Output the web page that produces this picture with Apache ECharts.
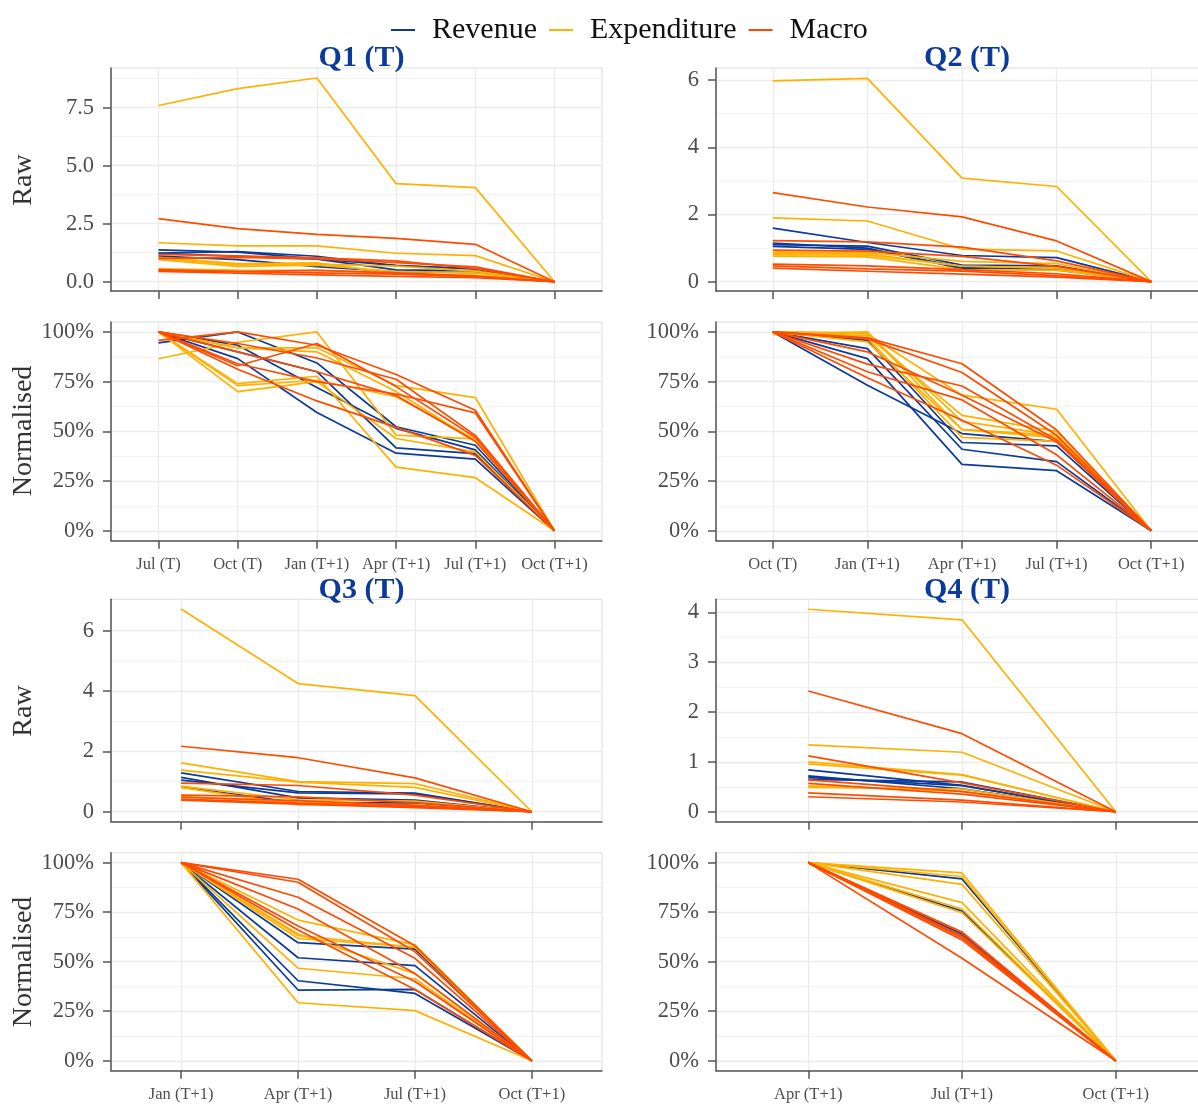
<!DOCTYPE html>
<html>
<head>
<meta charset="utf-8">
<script src="https://cdn.jsdelivr.net/npm/echarts@6/dist/echarts.min.js"></script>
<style>
  html, body {margin: 0; padding: 0; background: #fff;}
  #chart {width: 1198px; height: 1106px;}
</style>
</head>
<body>
<div id="chart"></div>
<script>
// categories per panel
const q1Cats = ['Jul (T)', 'Oct (T)', 'Jan (T+1)', 'Apr (T+1)', 'Jul (T+1)', 'Oct (T+1)']
const q2Cats = ['Oct (T)', 'Jan (T+1)', 'Apr (T+1)', 'Jul (T+1)', 'Oct (T+1)']
const q3Cats = ['Jan (T+1)', 'Apr (T+1)', 'Jul (T+1)', 'Oct (T+1)']
const q4Cats = ['Apr (T+1)', 'Jul (T+1)', 'Oct (T+1)']

// peak (raw max) of each line and its normalised profile in %
const q1RevPeak = [1.30, 1.37, 1.22, 1.10]
const q1RevNorm = [
  [94.5, 100, 84.4, 52.3, 43, 0],
  [100, 93.3, 72, 51.5, 40.7, 0],
  [100, 90, 80, 41.7, 38.8, 0],
  [100, 86.6, 59.5, 39, 36, 0],
]
const q1ExpPeak = [8.78, 1.68, 1.05, 1.00, 0.95, 0.55]
const q1ExpNorm = [
  [86.5, 94.8, 100, 48.1, 46.2, 0],
  [100, 92, 92, 73, 67, 0],
  [100, 74, 77.7, 32, 26.7, 0],
  [100, 73, 75.7, 67.4, 46, 0],
  [100, 70, 75, 46.4, 39.7, 0],
  [100, 92, 90, 70, 45, 0],
]
const q1MacPeak = [2.72, 1.05, 1.18, 0.52, 0.48, 0.45]
const q1MacNorm = [
  [100, 84, 75, 68.8, 59.3, 0],
  [95.8, 100, 93.3, 78.6, 60.6, 0],
  [100, 94.2, 86.9, 76.2, 48, 0],
  [100, 83, 94.2, 72.5, 47, 0],
  [100, 90, 80, 68, 45, 0],
  [100, 81.2, 65.3, 52, 37.9, 0],
]

const q2RevPeak = [1.59, 1.15, 1.10, 1.05]
const q2RevNorm = [
  [100, 73.2, 48.9, 44.8, 0],
  [100, 86.6, 33.4, 30.2, 0],
  [100, 95.8, 44.4, 42.7, 0],
  [100, 91.6, 41, 34.8, 0],
]
const q2ExpPeak = [6.05, 1.90, 0.88, 0.80, 0.76, 0.83]
const q2ExpNorm = [
  [98.8, 100, 50.9, 46.8, 0],
  [100, 95, 51, 48, 0],
  [100, 99, 68.2, 61.1, 0],
  [100, 98, 58, 50, 0],
  [100, 97, 47, 45, 0],
  [100, 99.5, 55, 48, 0],
]
const q2MacPeak = [2.65, 1.22, 0.94, 0.52, 0.47, 0.40]
const q2MacNorm = [
  [100, 83.8, 72.8, 45.7, 0],
  [100, 97, 84, 50.7, 0],
  [100, 96.5, 79.6, 48, 0],
  [100, 90, 68.2, 44.8, 0],
  [100, 80, 65.8, 38.2, 0],
  [100, 77, 55.6, 33, 0],
]

const q3RevPeak = [1.05, 1.29, 1.14, 0.82]
const q3RevNorm = [
  [100, 59.6, 56.3, 0],
  [100, 52, 48, 0],
  [100, 40.4, 34, 0],
  [100, 35.7, 36, 0],
]
const q3ExpPeak = [6.72, 1.62, 1.38, 0.85, 0.80, 0.50]
const q3ExpNorm = [
  [100, 63.2, 57.3, 0],
  [100, 61.7, 57.4, 0],
  [100, 71, 58.5, 0],
  [100, 46.7, 41.4, 0],
  [100, 29.3, 25.3, 0],
  [100, 64, 44, 0],
]
const q3MacPeak = [2.17, 0.95, 0.55, 0.48, 0.42, 0.38]
const q3MacNorm = [
  [100, 82.5, 51.7, 0],
  [100, 91.6, 58, 0],
  [100, 90.1, 55, 0],
  [100, 76.6, 44, 0],
  [100, 68, 40, 0],
  [100, 66, 36, 0],
]

const q4RevPeak = [0.84, 0.72, 0.69, 0.65]
const q4RevNorm = [
  [100, 63, 0],
  [100, 64, 0],
  [100, 75.6, 0],
  [100, 91.8, 0],
]
const q4ExpPeak = [4.06, 1.34, 1.00, 0.96, 0.52, 0.49]
const q4ExpNorm = [
  [100, 94.8, 0],
  [100, 89, 0],
  [100, 74.7, 0],
  [100, 76.6, 0],
  [100, 79.8, 0],
  [100, 93, 0],
]
const q4MacPeak = [2.42, 1.12, 0.64, 0.57, 0.38, 0.30]
const q4MacNorm = [
  [100, 64.7, 0],
  [100, 51.7, 0],
  [100, 63, 0],
  [100, 62, 0],
  [100, 61, 0],
  [100, 65, 0],
]

// axis ticks
const normTicks = [0, 25, 50, 75, 100]
const normMinor = [12.5, 37.5, 62.5, 87.5]

const font = 'Liberation Serif'
const textCol = '#4d4d4d'
const axisCol = '#555555'
const majorCol = '#ebebeb'
const minorCol = '#f3f3f3'
const colors = {Revenue: '#0b3a99', Expenditure: '#ffb000', Macro: '#ff4b00'}

const panels = [
  {title: 'Q1 (T)', cats: q1Cats, rev: [q1RevPeak, q1RevNorm], exp: [q1ExpPeak, q1ExpNorm], mac: [q1MacPeak, q1MacNorm],
    rawTicks: [0, 2.5, 5, 7.5], rawMinor: [1.25, 3.75, 6.25, 8.75], rawRange: [-0.40, 9.21], digits: 1,
    left: 111, width: 491, rawTop: 68, rawH: 223, normTop: 322, normH: 218.7, titleTop: 38},
  {title: 'Q2 (T)', cats: q2Cats, rev: [q2RevPeak, q2RevNorm], exp: [q2ExpPeak, q2ExpNorm], mac: [q2MacPeak, q2MacNorm],
    rawTicks: [0, 2, 4, 6], rawMinor: [1, 3, 5], rawRange: [-0.28, 6.36], digits: 0,
    left: 716, width: 492, rawTop: 68, rawH: 223, normTop: 322, normH: 218.7, titleTop: 38},
  {title: 'Q3 (T)', cats: q3Cats, rev: [q3RevPeak, q3RevNorm], exp: [q3ExpPeak, q3ExpNorm], mac: [q3MacPeak, q3MacNorm],
    rawTicks: [0, 2, 4, 6], rawMinor: [1, 3, 5], rawRange: [-0.33, 7.04], digits: 0,
    left: 111, width: 491, rawTop: 599.3, rawH: 222.4, normTop: 852.7, normH: 218, titleTop: 570},
  {title: 'Q4 (T)', cats: q4Cats, rev: [q4RevPeak, q4RevNorm], exp: [q4ExpPeak, q4ExpNorm], mac: [q4MacPeak, q4MacNorm],
    rawTicks: [0, 1, 2, 3, 4], rawMinor: [0.5, 1.5, 2.5, 3.5], rawRange: [-0.2, 4.26], digits: 0,
    left: 716, width: 492, rawTop: 599.3, rawH: 222.4, normTop: 852.7, normH: 218, titleTop: 570},
]

const grids = []
const xAxes = []
const yAxes = []
const minorAxes = []
const series = []
const titles = []

const makeX = (gi, cats, showLabels) => {
  const idx = cats.map((_c, i) => i)
  return {
    type: 'value', gridIndex: gi, min: -0.6, max: cats.length - 0.4,
    axisLine: {show: true, onZero: false, lineStyle: {color: axisCol, width: 1.5}},
    axisTick: {show: true, length: 8, customValues: idx, lineStyle: {color: axisCol, width: 1.5}},
    axisLabel: {show: showLabels, customValues: idx, formatter: (v) => cats[Math.round(v)] || '',
      color: textCol, fontFamily: font, fontSize: 16.5, margin: 15, hideOverlap: false},
    splitLine: {show: true, lineStyle: {color: majorCol, width: 1.3}},
  }
}

const makeY = (gi, range, ticks, fmt) => ({
  type: 'value', gridIndex: gi, min: range[0], max: range[1],
  axisLine: {show: true, onZero: false, lineStyle: {color: axisCol, width: 1.5}},
  axisTick: {show: true, length: 8, customValues: ticks, lineStyle: {color: axisCol, width: 1.5}},
  axisLabel: {show: true, customValues: ticks, formatter: fmt, color: textCol, fontFamily: font, fontSize: 22.5, margin: 17},
  splitLine: {show: true, lineStyle: {color: majorCol, width: 1.3}},
})

const makeMinor = (gi, range, ticks) => ({
  type: 'value', gridIndex: gi, min: range[0], max: range[1], position: 'left', z: -1,
  axisLine: {show: false}, axisTick: {show: false, customValues: ticks}, axisLabel: {show: false},
  splitLine: {show: true, lineStyle: {color: minorCol, width: 1}},
})

const addLines = (gi, group, name, normalised) => {
  const [peaks, norms] = group
  norms.forEach((prof, k) => {
    series.push({
      type: 'line', name, xAxisIndex: gi, yAxisIndex: gi,
      data: prof.map((p, i) => [i, normalised ? p : peaks[k] * p / 100]),
      showSymbol: false, symbol: 'none', animation: false, silent: true,
      lineStyle: {width: 1.7, color: colors[name]}, itemStyle: {color: colors[name]},
    })
  })
}

panels.forEach((p, pi) => {
  const gRaw = pi * 2
  const gNorm = pi * 2 + 1
  const gridBase = {show: true, borderColor: '#dcdcdc', borderWidth: 1, outerBoundsMode: 'none', containLabel: false}
  grids.push({...gridBase, left: p.left, top: p.rawTop, width: p.width, height: p.rawH})
  grids.push({...gridBase, left: p.left, top: p.normTop, width: p.width, height: p.normH})

  xAxes.push(makeX(gRaw, p.cats, false))
  xAxes.push(makeX(gNorm, p.cats, true))

  yAxes.push(makeY(gRaw, p.rawRange, p.rawTicks, (v) => v.toFixed(p.digits)))
  yAxes.push(makeY(gNorm, [-5, 105], normTicks, (v) => Math.round(v) + '%'))
  minorAxes.push(makeMinor(gRaw, p.rawRange, p.rawMinor))
  minorAxes.push(makeMinor(gNorm, [-5, 105], normMinor))

  // ggplot draws groups in legend order
  addLines(gRaw, p.rev, 'Revenue', false)
  addLines(gRaw, p.exp, 'Expenditure', false)
  addLines(gRaw, p.mac, 'Macro', false)
  addLines(gNorm, p.rev, 'Revenue', true)
  addLines(gNorm, p.exp, 'Expenditure', true)
  addLines(gNorm, p.mac, 'Macro', true)

  titles.push({
    text: p.title, left: p.left + p.width / 2, top: p.titleTop, textAlign: 'center',
    textStyle: {fontFamily: font, fontSize: 30, fontWeight: 'bold', color: '#0b3a99'},
  })
})

const yName = (text, y) => ({
  type: 'text', x: 24, y, rotation: Math.PI / 2,
  style: {text, fontFamily: font, fontSize: 28, fill: '#333', align: 'center', verticalAlign: 'middle'},
})

const chart = echarts.init(document.getElementById('chart'), null, {renderer: 'canvas'})
chart.setOption({
  backgroundColor: '#ffffff',
  animation: false,
  title: titles,
  legend: {
    data: ['Revenue', 'Expenditure', 'Macro'],
    left: 386, top: 10, icon: 'rect', itemWidth: 24, itemHeight: 2, itemGap: 12,
    textStyle: {fontFamily: font, fontSize: 30, color: '#111', padding: [0, 0, 0, 12]},
  },
  grid: grids,
  xAxis: xAxes,
  yAxis: [...yAxes, ...minorAxes],
  series,
  graphic: [yName('Raw', 180), yName('Normalised', 431), yName('Raw', 711), yName('Normalised', 962)],
})
</script>
</body>
</html>
